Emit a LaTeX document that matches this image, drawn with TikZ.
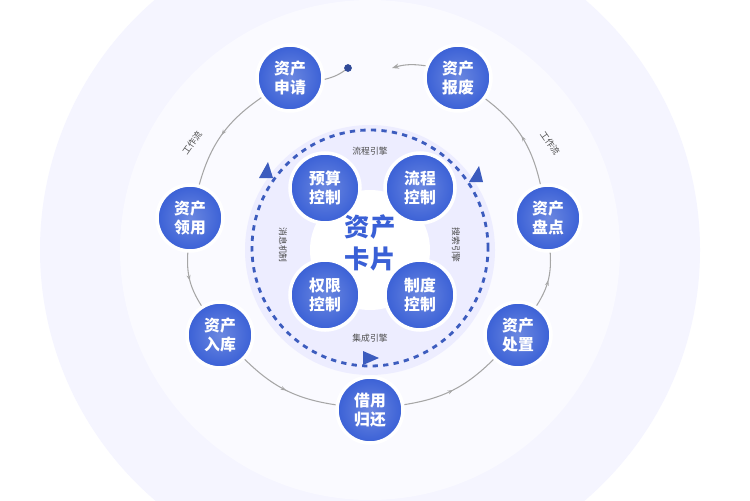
\documentclass[tikz,border=0pt]{standalone}
\usepackage{fontspec}
\setmainfont{Noto Sans CJK SC}
\usetikzlibrary{arrows.meta, decorations.markings}
\definecolor{ballblue}{RGB}{58,96,214}
\definecolor{ringblue}{RGB}{60,92,190}
\colorlet{bgblue}{blue!4}
\begin{document}
\begin{tikzpicture}[x=0.02cm, y=-0.02cm,
    ball/.style = {circle, minimum size=66*0.02cm, inner sep=0pt, draw=white, line width=2pt,
      inner color=ballblue!75!white, outer color=ballblue, text=white, align=center,
      font=\bfseries\small},
    cardball/.style = {ball, minimum size=70*0.02cm},
    ringlabel/.style = {font=\tiny, text=black!70},
    flow/.style = {draw=gray!70, line width=0.6pt},
    midarrow/.style = {flow, postaction={decorate}, decoration={markings,
      mark=at position 0.5 with {\arrow{Stealth[length=3pt]}}}},
  ]
\useasboundingbox (0,0) rectangle (750,500);
\fill[white] (0,0) rectangle (750,500);
\fill[bgblue] (370,250) circle [radius=330*0.02cm];
\fill[blue!2] (370,250) circle [radius=250*0.02cm];
\fill[blue!7] (370,250) circle [radius=125*0.02cm];
\fill[white] (370,250) circle [radius=60*0.02cm];

% outer ring
\node[ball] (apply)   at (290,78)  {资产\\申请};
\node[ball] (scrap)   at (458,78)  {资产\\报废};
\node[ball] (use)     at (190,218) {资产\\领用};
\node[ball] (check)   at (548,218) {资产\\盘点};
\node[ball] (store)   at (220,335) {资产\\入库};
\node[ball] (dispose) at (518,335) {资产\\处置};
\node[ball] (borrow)  at (370,410) {借用\\归还};
\coordinate (start) at (348,68);
\coordinate (finish) at (392,68);

\draw[flow] (apply) to[bend right=12] (start);
\fill[ringblue!80!black] (start) circle [radius=2.2pt];
\draw[midarrow] (apply) to[bend right=20] (use);
\draw[midarrow] (use) to[bend right=18] (store);
\draw[midarrow] (store) to[bend right=18] (borrow);
\draw[midarrow] (borrow) to[bend right=18] (dispose);
\draw[midarrow] (dispose) to[bend right=18] (check);
\draw[midarrow] (check) to[bend right=20] (scrap);
\draw[flow, -{Stealth[length=4pt]}] (scrap) to[bend right=12] (finish);

\node[ringlabel, rotate=55] (wf1) at (192,143) {工作流};
\node[ringlabel, rotate=-55] (wf2) at (550,143) {工作流};

% inner card
\draw[ringblue, dashed, line width=1.6pt] (370,248) circle [radius=118*0.02cm];
\coordinate (ar1) at (266,172);
\coordinate (ar2) at (476,176);
\coordinate (ar3) at (370,358);
\fill[ringblue] (ar1) ++(-7,6) -- ++(14,0) -- ++(-5,-16) -- cycle;
\fill[ringblue] (ar2) ++(-7,6) -- ++(14,0) -- ++(-4,-16) -- cycle;
\fill[ringblue] (ar3) ++(-7,-7) -- ++(0,14) -- ++(16,-7) -- cycle;

\node[cardball] (budget) at (325,188) {预算\\控制};
\node[cardball] (process) at (420,188) {流程\\控制};
\node[cardball] (right) at (325,295) {权限\\控制};
\node[cardball] (rule) at (420,295) {制度\\控制};
\node[font=\bfseries\Large, text=ballblue, align=center] (card) at (370,243) {资产\\卡片};

\node[ringlabel] (eng1) at (370,151) {流程引擎};
\node[ringlabel] (eng2) at (370,338) {集成引擎};
\node[ringlabel, rotate=-90] (eng3) at (283,245) {消息机制};
\node[ringlabel, rotate=-90] (eng4) at (456,245) {搜索引擎};
\end{tikzpicture}
\end{document}
